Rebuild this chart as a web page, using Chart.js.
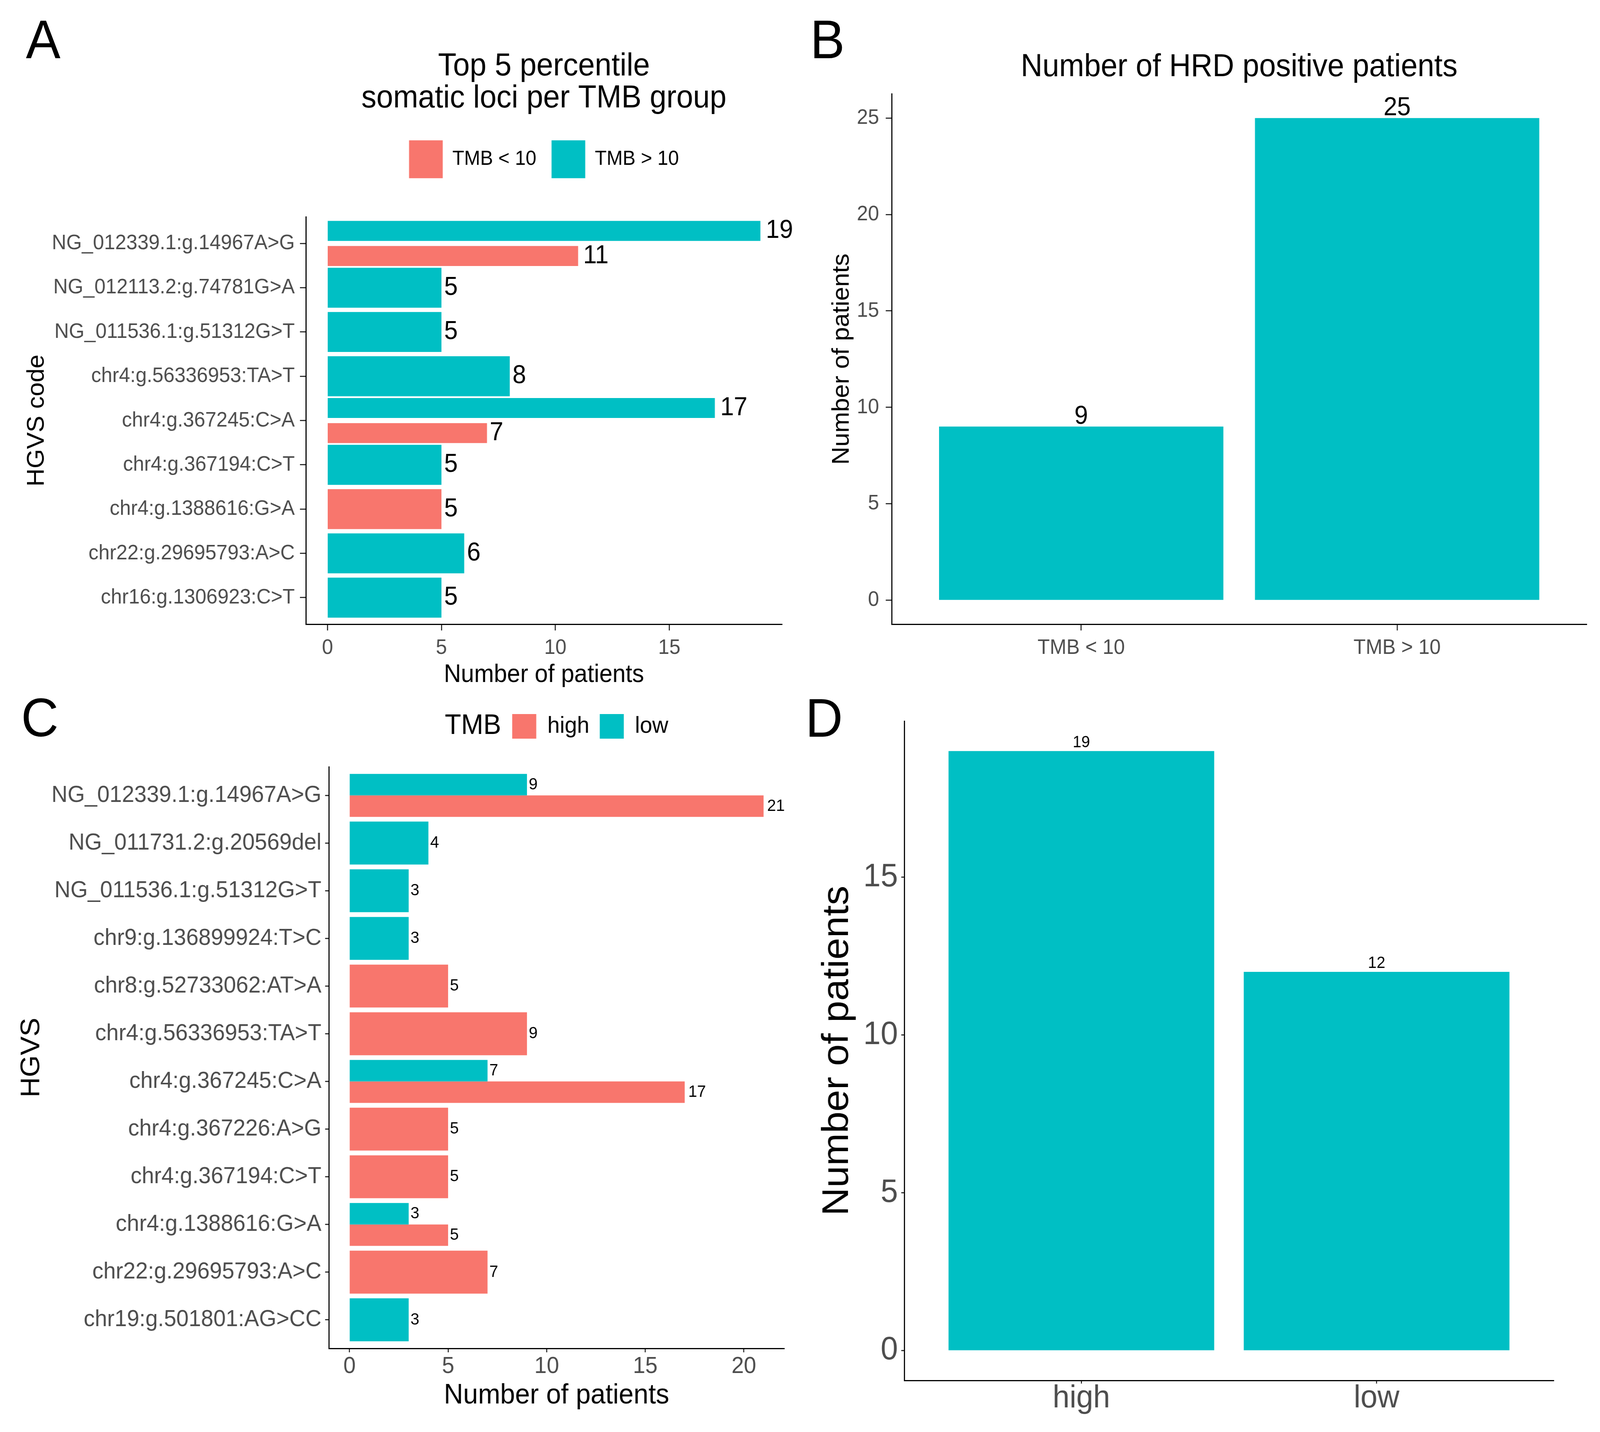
<!DOCTYPE html>
<html>
<head>
<meta charset="utf-8">
<script src="https://cdn.jsdelivr.net/npm/chart.js@4.4.1/dist/chart.umd.min.js"></script>
<style>
html,body{margin:0;padding:0;background:#fff;overflow:hidden;}
#page{position:relative;width:4321px;height:3666px;background:#fff;overflow:hidden;transform-origin:0 0;}
canvas{position:absolute;}
.lbl{position:absolute;z-index:5;font-family:'Liberation Sans',Arial,Helvetica,sans-serif;font-size:140px;line-height:1;color:#000;}
</style>
</head>
<body>
<div id="page">
  <canvas id="cA" width="2160" height="1780" style="left:0px;top:0px;"></canvas>
  <canvas id="cB" width="2161" height="1780" style="left:2160px;top:0px;"></canvas>
  <canvas id="cC" width="2160" height="1886" style="left:0px;top:1780px;"></canvas>
  <canvas id="cD" width="2161" height="1886" style="left:2160px;top:1780px;"></canvas>
  <div class="lbl" style="left:70px;top:31px;">A</div>
  <div class="lbl" style="left:2188px;top:31px;">B</div>
  <div class="lbl" style="left:57px;top:1767px;">C</div>
  <div class="lbl" style="left:2175px;top:1768px;">D</div>
</div>
<script>
// ---------------- DATA ----------------
// Panel A
const aTitle = ['Top 5 percentile', 'somatic loci per TMB group'];
const aLoci = [
  'NG_012339.1:g.14967A>G',
  'NG_012113.2:g.74781G>A',
  'NG_011536.1:g.51312G>T',
  'chr4:g.56336953:TA>T',
  'chr4:g.367245:C>A',
  'chr4:g.367194:C>T',
  'chr4:g.1388616:G>A',
  'chr22:g.29695793:A>C',
  'chr16:g.1306923:C>T'
];
const aTmbAbove10 = [19, 5, 5, 8, 17, 5, null, 6, 5];
const aTmbBelow10 = [11, null, null, null, 7, null, 5, null, null];
const aXTicks = [0, 5, 10, 15];

// Panel B
const bTitle = 'Number of HRD positive patients';
const bGroups = ['TMB < 10', 'TMB > 10'];
const bHrdPositive = [9, 25];
const bYTicks = [0, 5, 10, 15, 20, 25];

// Panel C
const cLoci = [
  'NG_012339.1:g.14967A>G',
  'NG_011731.2:g.20569del',
  'NG_011536.1:g.51312G>T',
  'chr9:g.136899924:T>C',
  'chr8:g.52733062:AT>A',
  'chr4:g.56336953:TA>T',
  'chr4:g.367245:C>A',
  'chr4:g.367226:A>G',
  'chr4:g.367194:C>T',
  'chr4:g.1388616:G>A',
  'chr22:g.29695793:A>C',
  'chr19:g.501801:AG>CC'
];
const cTmbLow  = [9, 4, 3, 3, null, null, 7, null, null, 3, null, 3];
const cTmbHigh = [21, null, null, null, 5, 9, 17, 5, 5, 5, 7, null];
const cXTicks = [0, 5, 10, 15, 20];

// Panel D
const dGroups = ['high', 'low'];
const dPatients = [19, 12];
const dYTicks = [0, 5, 10, 15];

// ---------------- PAGE FIT (identity when the viewport is 4321x3666) ----------------
(function () {
  const sx = window.innerWidth / 4321;
  const sy = window.innerHeight / 3666;
  if (sx > 0 && sy > 0 && (Math.abs(sx - 1) > 0.002 || Math.abs(sy - 1) > 0.002)) {
    document.getElementById('page').style.transform = 'scale(' + sx + ',' + sy + ')';
  }
})();

// ---------------- STYLE ----------------
const FONT = "'Liberation Sans', Arial, Helvetica, sans-serif";
const CYAN = '#00BFC4';
const RED = '#F8766D';
const TICK_TXT = '#4D4D4D';
Chart.defaults.font.family = FONT;
Chart.defaults.color = '#000';

// value labels next to / above bars (positions from the bar elements)
const valueLabels = {
  id: 'valueLabels',
  afterDatasetsDraw(chart, args, opts) {
    const ctx = chart.ctx;
    const horizontal = chart.options.indexAxis === 'y';
    ctx.save();
    ctx.font = opts.size + 'px ' + FONT;
    ctx.fillStyle = '#000';
    chart.data.datasets.forEach((ds, di) => {
      const meta = chart.getDatasetMeta(di);
      if (meta.hidden) return;
      meta.data.forEach((el, i) => {
        const raw = ds.data[i];
        const v = horizontal ? raw.x : raw.y;
        if (v === null || v === undefined) return;
        const txt = String(v);
        const w = ctx.measureText(txt).width;
        if (horizontal) {
          ctx.textAlign = 'left';
          ctx.textBaseline = 'middle';
          ctx.fillText(txt, el.x + opts.hjust * w, el.y);
        } else {
          ctx.textAlign = 'center';
          ctx.textBaseline = 'alphabetic';
          ctx.fillText(txt, el.x, el.y - opts.gap);
        }
      });
    });
    ctx.restore();
  }
};

// legend title drawn on the same row, left of the legend items
const inlineLegendTitle = {
  id: 'inlineLegendTitle',
  afterLayout(chart, args, opts) {
    const lg = chart.legend;
    if (!lg || !opts || !opts.text) return;
    const ctx = chart.ctx;
    ctx.save();
    ctx.font = opts.size + 'px ' + FONT;
    const w = ctx.measureText(opts.text).width;
    ctx.restore();
    const shift = (w + opts.gap) / 2;
    lg.left += shift;
    lg.right += shift;
  },
  afterDraw(chart, args, opts) {
    const lg = chart.legend;
    if (!lg || !opts || !opts.text || !lg.legendHitBoxes || !lg.legendHitBoxes.length) return;
    const hb = lg.legendHitBoxes[0];
    const ctx = chart.ctx;
    ctx.save();
    ctx.font = opts.size + 'px ' + FONT;
    ctx.fillStyle = '#000';
    ctx.textAlign = 'right';
    ctx.textBaseline = 'middle';
    ctx.fillText(opts.text, hb.left - opts.gap, hb.top + hb.height / 2);
    ctx.restore();
  }
};

function axisCommon(c) {
  return {
    offset: false,
    grid: { display: true, drawOnChartArea: false, offset: false, tickLength: c.tl, tickWidth: 3, tickColor: '#333333', color: '#333333' },
    border: { display: true, color: '#000000', width: 3 },
    ticks: { font: { size: c.tickSize, lineHeight: c.tickLH || 1 }, color: TICK_TXT, padding: c.pad, autoSkip: false, maxRotation: 0, minRotation: 0 }
  };
}
// discrete axis (ggplot-like 0.6 expansion on both sides)
function discreteAxis(labels, c) {
  const a = axisCommon(c);
  a.type = 'linear';
  a.min = 0.4;
  a.max = labels.length + 0.6;
  a.reverse = !!c.reverse;
  a.afterBuildTicks = s => { s.ticks = labels.map((_, i) => ({ value: i + 1 })); };
  a.ticks.callback = v => labels[Math.round(v) - 1];
  if (c.fit) a.afterFit = c.fit;
  if (c.title) a.title = c.title;
  return a;
}
// continuous axis (ggplot-like 5% expansion of [0, max])
function valueAxis(values, ticks, c) {
  const a = axisCommon(c);
  const hi = Math.max(...values.filter(v => v !== null && v !== undefined));
  a.type = 'linear';
  a.min = -0.05 * hi;
  a.max = 1.05 * hi;
  a.afterBuildTicks = s => { s.ticks = ticks.map(v => ({ value: v })); };
  if (c.fit) a.afterFit = c.fit;
  if (c.title) a.title = c.title;
  return a;
}
function toPoints(values, horizontal) {
  return values.map((v, i) => horizontal ? { x: v, y: i + 1 } : { x: i + 1, y: v });
}
const base = { responsive: false, animation: false, devicePixelRatio: 1, events: [] };

// ---------------- PANEL A ----------------
new Chart(document.getElementById('cA'), {
  type: 'bar',
  data: {
    datasets: [
      { label: 'TMB > 10', data: toPoints(aTmbAbove10, true), backgroundColor: CYAN, borderWidth: 0,
        skipNull: true, categoryPercentage: 1.133, barPercentage: 0.797 },
      { label: 'TMB < 10', data: toPoints(aTmbBelow10, true), backgroundColor: RED, borderWidth: 0,
        skipNull: true, categoryPercentage: 1.133, barPercentage: 0.797 }
    ]
  },
  options: Object.assign({}, base, {
    indexAxis: 'y',
    layout: { padding: { left: 0, right: 48, top: 0, bottom: 0 } },
    scales: {
      y: discreteAxis(aLoci, { reverse: true, tl: 16, pad: 14, tickSize: 54,
        fit: s => { s.width = 826; },
        title: { display: true, text: 'HGVS code', color: '#000', font: { size: 64, lineHeight: 1.2 }, padding: { top: 62, bottom: 0 } } }),
      x: valueAxis(aTmbAbove10.concat(aTmbBelow10), aXTicks, { tl: 16, pad: 18, tickSize: 54,
        fit: s => { s.height = 182; },
        title: { display: true, text: 'Number of patients', color: '#000', font: { size: 64, lineHeight: 1.2 }, padding: { top: 0, bottom: 13 } } })
    },
    plugins: {
      title: { display: true, text: aTitle, fullSize: false, color: '#000',
        font: { size: 81, weight: 'normal', lineHeight: 1.02 }, padding: { top: 129, bottom: 24 } },
      legend: { display: true, position: 'top', fullSize: false, reverse: true,
        labels: { boxWidth: 91, boxHeight: 97, padding: 41, color: '#000', font: { size: 52 } } },
      subtitle: { display: true, text: ' ', fullSize: false, weight: 500, font: { size: 1, lineHeight: 1 }, padding: { top: 88, bottom: 0 } },
      tooltip: { enabled: false },
      valueLabels: { size: 66, hjust: 0.2 }
    }
  }),
  plugins: [valueLabels]
});

// ---------------- PANEL B ----------------
new Chart(document.getElementById('cB'), {
  type: 'bar',
  data: {
    datasets: [
      { label: 'HRD positive', data: toPoints(bHrdPositive, false), backgroundColor: CYAN, borderWidth: 0,
        categoryPercentage: 0.9, barPercentage: 1 }
    ]
  },
  options: Object.assign({}, base, {
    indexAxis: 'x',
    layout: { padding: { left: 0, right: 36, top: 0, bottom: 0 } },
    scales: {
      x: discreteAxis(bGroups, { tl: 16, pad: 18, tickSize: 54, fit: s => { s.height = 182; } }),
      y: valueAxis(bHrdPositive, bYTicks, { tl: 16, pad: 18, tickSize: 54,
        fit: s => { s.width = 248; },
        title: { display: true, text: 'Number of patients', color: '#000', font: { size: 64, lineHeight: 1.2 }, padding: { top: 76, bottom: 0 } } })
    },
    plugins: {
      title: { display: true, text: bTitle, fullSize: false, color: '#000',
        font: { size: 81, weight: 'normal', lineHeight: 1.02 }, padding: { top: 131, bottom: 27 } },
      legend: { display: false },
      tooltip: { enabled: false },
      valueLabels: { size: 66, gap: 7 }
    }
  }),
  plugins: [valueLabels]
});

// ---------------- PANEL C ----------------
new Chart(document.getElementById('cC'), {
  type: 'bar',
  data: {
    datasets: [
      { label: 'low', data: toPoints(cTmbLow, true), backgroundColor: CYAN, borderWidth: 0,
        skipNull: true, categoryPercentage: 0.9, barPercentage: 1 },
      { label: 'high', data: toPoints(cTmbHigh, true), backgroundColor: RED, borderWidth: 0,
        skipNull: true, categoryPercentage: 0.9, barPercentage: 1 }
    ]
  },
  options: Object.assign({}, base, {
    indexAxis: 'y',
    layout: { padding: { left: 0, right: 42, top: 20, bottom: 0 } },
    scales: {
      y: discreteAxis(cLoci, { reverse: true, tl: 10, pad: 10, tickSize: 60,
        fit: s => { s.width = 888; },
        title: { display: true, text: 'HGVS', color: '#000', font: { size: 72, lineHeight: 1.2 }, padding: { top: 43, bottom: 0 } } }),
      x: valueAxis(cTmbLow.concat(cTmbHigh), cXTicks, { tl: 10, pad: 6, tickSize: 60,
        fit: s => { s.height = 214; },
        title: { display: true, text: 'Number of patients', color: '#000', font: { size: 72, lineHeight: 1.2 }, padding: { top: 0, bottom: 50 } } })
    },
    plugins: {
      legend: { display: true, position: 'top', fullSize: false, reverse: true,
        labels: { boxWidth: 65, boxHeight: 63, padding: 28, color: '#000', font: { size: 60 } } },
      subtitle: { display: true, text: ' ', fullSize: false, weight: 500, font: { size: 1, lineHeight: 1 }, padding: { top: 61, bottom: 0 } },
      tooltip: { enabled: false },
      inlineLegendTitle: { text: 'TMB', size: 72, gap: 30 },
      valueLabels: { size: 43, hjust: 0.2 }
    }
  }),
  plugins: [valueLabels, inlineLegendTitle]
});

// ---------------- PANEL D ----------------
new Chart(document.getElementById('cD'), {
  type: 'bar',
  data: {
    datasets: [
      { label: 'patients', data: toPoints(dPatients, false), backgroundColor: CYAN, borderWidth: 0,
        categoryPercentage: 0.9, barPercentage: 1 }
    ]
  },
  options: Object.assign({}, base, {
    indexAxis: 'x',
    layout: { padding: { left: 0, right: 125, top: 66, bottom: 0 } },
    scales: {
      x: discreteAxis(dGroups, { tl: 8, pad: 1, tickSize: 82, tickLH: 0.9, fit: s => { s.height = 132; } }),
      y: valueAxis(dPatients, dYTicks, { tl: 8, pad: 9, tickSize: 84,
        fit: s => { s.width = 282; },
        title: { display: true, text: 'Number of patients', color: '#000', font: { size: 100, lineHeight: 1.2 }, padding: { top: 42, bottom: 0 } } })
    },
    plugins: {
      legend: { display: false },
      tooltip: { enabled: false },
      valueLabels: { size: 42, gap: 10 }
    }
  }),
  plugins: [valueLabels]
});
</script>
</body>
</html>
